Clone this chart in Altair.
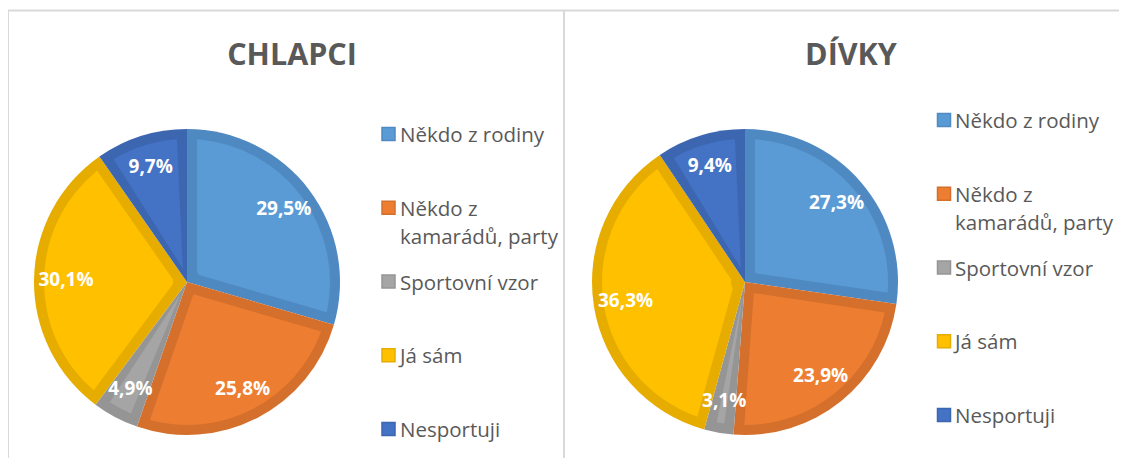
import altair as alt
import pandas as pd

# ---- data ----
categories = ["Někdo z rodiny", "Někdo z kamarádů, party", "Sportovní vzor", "Já sám", "Nesportuji"]
groups = ["CHLAPCI", "DÍVKY"]
boys = [29.5, 25.8, 4.9, 30.1, 9.7]
girls = [27.3, 23.9, 3.1, 36.3, 9.4]
fill_colors = ["#5B9BD5", "#ED7D31", "#A5A5A5", "#FFC000", "#4472C4"]
border_colors = ["#4F89C1", "#D4702C", "#959595", "#E6AD00", "#3D66B0"]

rows = []
for g, vals in zip(groups, [boys, girls]):
    for i, (c, v) in enumerate(zip(categories, vals)):
        rows.append({"group": g, "category": c, "value": v, "idx": i})
df = pd.DataFrame(rows)
leg_df = pd.DataFrame({"category": categories, "idx": list(range(len(categories)))})
title_df = pd.DataFrame({"group": groups})
border_df = pd.DataFrame({"k": [0]})

# ---- layout / style ----
W, H = 1111, 450
FONT = "Open Sans"
R_OUT, R_IN = 153, 143
panels = {
    "CHLAPCI": dict(cx=179, cy=274, tx=284, lx=380.5, ltx=392, ly=[126, 421]),
    "DÍVKY": dict(cx=737, cy=274, tx=843, lx=936, ltx=947, ly=[112, 407]),
}

fill_scale = alt.Scale(domain=categories, range=fill_colors)
border_scale = alt.Scale(domain=categories, range=border_colors)

layers = []

# panel borders
rule = alt.Chart(border_df).mark_rule(color="#D9D9D9", strokeWidth=2)
layers.append(rule.encode(x=alt.value(0), x2=alt.value(W), y=alt.value(2.5)))
layers.append(rule.encode(x=alt.value(0), y=alt.value(2.5), y2=alt.value(H)))
layers.append(rule.encode(x=alt.value(556), y=alt.value(2.5), y2=alt.value(H)))

for g in groups:
    p = panels[g]
    base = alt.Chart(df).transform_filter(alt.datum.group == g)
    theta = alt.Theta("value:Q", stack=True)
    order = alt.Order("idx:Q")
    outer = base.mark_arc(outerRadius=R_OUT).encode(
        theta=theta, order=order,
        fill=alt.Fill("category:N", scale=border_scale, legend=None),
        x=alt.value(p["cx"]), y=alt.value(p["cy"]),
    )
    inner = base.mark_arc(outerRadius=R_IN, innerRadius=14, padAngle=0.14).encode(
        theta=theta, order=order,
        color=alt.Color("category:N", scale=fill_scale, legend=None),
        x=alt.value(p["cx"]), y=alt.value(p["cy"]),
    )
    labels = base.transform_calculate(
        label="replace(format(datum.value, '.1f'), '.', ',') + '%'"
    ).mark_text(radius=121, font=FONT, fontSize=19, fontWeight="bold", color="white").encode(
        theta=theta, order=order, text="label:N",
        x=alt.value(p["cx"]), y=alt.value(p["cy"]),
    )
    title = alt.Chart(title_df).transform_filter(alt.datum.group == g).mark_text(
        font=FONT, fontSize=30.5, fontWeight="bold", color="#595959"
    ).encode(text="group:N", x=alt.value(p["tx"]), y=alt.value(47.5))

    ly_scale = alt.Scale(type="point", domain=categories, range=p["ly"], padding=0)
    squares = alt.Chart(leg_df).mark_square(size=169, opacity=1, strokeWidth=1.5).encode(
        y=alt.Y("category:N", scale=ly_scale, axis=None),
        x=alt.value(p["lx"]),
        color=alt.Color("category:N", scale=fill_scale, legend=None),
        stroke=alt.Stroke("category:N", scale=border_scale, legend=None),
    )
    leg_text = alt.Chart(leg_df).transform_calculate(
        lab="replace(datum.category, 'z kamarádů', 'z|kamarádů')"
    ).mark_text(
        align="left", baseline="top", dy=-8, font=FONT, fontSize=20.5,
        color="#595959", lineBreak="|", lineHeight=28,
    ).encode(
        y=alt.Y("category:N", scale=ly_scale, axis=None),
        x=alt.value(p["ltx"]),
        text="lab:N",
    )
    layers += [outer, inner, labels, title, squares, leg_text]

chart = alt.layer(*layers).resolve_scale(y="independent").properties(
    width=W, height=H, padding=0,
    autosize=alt.AutoSizeParams(type="none"),
    background="white",
).configure_view(stroke=None)

chart.save("out.html", embed_options={"renderer": "svg", "actions": False})
